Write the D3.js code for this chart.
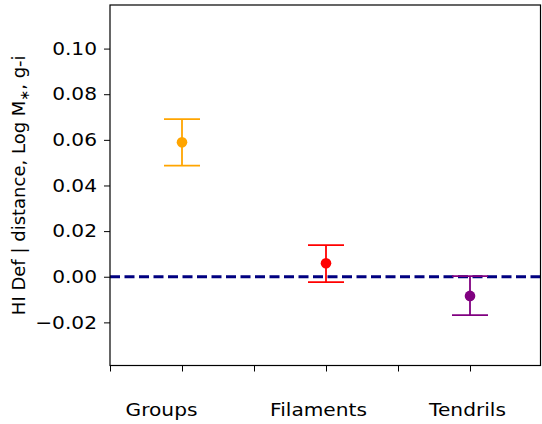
<!DOCTYPE html>
<html><head><meta charset="utf-8">
<script src="https://cdn.jsdelivr.net/npm/d3@7"></script>
<style>body{margin:0;background:#fff}svg{display:block}text{font-family:"DejaVu Sans",sans-serif}</style>
</head><body><svg id="c" width="542" height="424"></svg>
<script>
const categories = ["Groups", "Filaments", "Tendrils"];
const values = [0.0589, 0.0059, -0.0084];
const errLow = [0.0487, -0.0024, -0.0168];
const errHigh = [0.0691, 0.0139, 0.0003];
const colors = ["#FFA500", "#FF0000", "#800080"];
const yTicks = [-0.02, 0.00, 0.02, 0.04, 0.06, 0.08, 0.10];
const xTicks = [-0.5, 0, 0.5, 1, 1.5, 2, 2.5];

const svg = d3.select("#c");
const L = 110, R = 542, T = 5, B = 365.5;
const x = d3.scaleLinear().domain([-0.5, 2.5]).range([L, R]);
const y = d3.scaleLinear().domain([-0.0389, 0.1191]).range([B, T]);
const labelShift = [-21, -8, -3];
const stretch = 1.12;

// zero line
svg.append("line").attr("x1", L).attr("x2", R).attr("y1", y(0)).attr("y2", y(0))
  .attr("stroke", "#000080").attr("stroke-width", 3).attr("stroke-dasharray", "10,4.5");

// error bars
const g = svg.append("g");
categories.forEach((c, i) => {
  const cx = x(i);
  g.append("line").attr("x1", cx).attr("x2", cx).attr("y1", y(errLow[i])).attr("y2", y(errHigh[i]))
    .attr("stroke", colors[i]).attr("stroke-width", 1.8);
  [errLow[i], errHigh[i]].forEach(v => {
    g.append("line").attr("x1", cx - 18).attr("x2", cx + 18).attr("y1", y(v)).attr("y2", y(v))
      .attr("stroke", colors[i]).attr("stroke-width", 1.8);
  });
  g.append("circle").attr("cx", cx).attr("cy", y(values[i])).attr("r", 5.3).attr("fill", colors[i]);
});

// axes
const yAxis = d3.axisLeft(y).tickValues(yTicks).tickFormat(d3.format(".2f")).tickSize(6).tickPadding(7);
const ya = svg.append("g").attr("transform", `translate(${L},0)`).call(yAxis);
const xAxis = d3.axisBottom(x).tickValues(xTicks).tickFormat(d => Number.isInteger(d) ? categories[d] : "").tickSize(6).tickPadding(31.4);
const xa = svg.append("g").attr("transform", `translate(0,${B})`).call(xAxis);
[ya, xa].forEach(a => {
  a.select(".domain").remove();
  a.selectAll("line").attr("stroke", "#000").attr("stroke-width", 1);
  a.selectAll("text").attr("fill", "#000").style("font-size", "18px");
});
xa.selectAll(".tick text").attr("dx", d => Number.isInteger(d) ? labelShift[d] : 0);
[ya, xa].forEach(a => a.selectAll(".tick text").each(function () {
  const w = this.getComputedTextLength();
  if (w > 0) d3.select(this).attr("textLength", w * stretch).attr("lengthAdjust", "spacingAndGlyphs");
}));

// frame
svg.append("rect").attr("x", L).attr("y", T).attr("width", R - L - 1.5).attr("height", B - T)
  .attr("fill", "none").attr("stroke", "#000").attr("stroke-width", 1.2);

// y label
const lab = svg.append("text").attr("transform", `translate(25,${(T + B) / 2}) rotate(-90)`)
  .attr("text-anchor", "middle").style("font-size", "18px").attr("fill", "#000");
lab.append("tspan").text("HI Def | distance, Log M");
lab.append("tspan").text("∗").attr("dy", 4).style("font-size", "13px");
lab.append("tspan").text(", g-i").attr("dy", -4);
</script></body></html>
